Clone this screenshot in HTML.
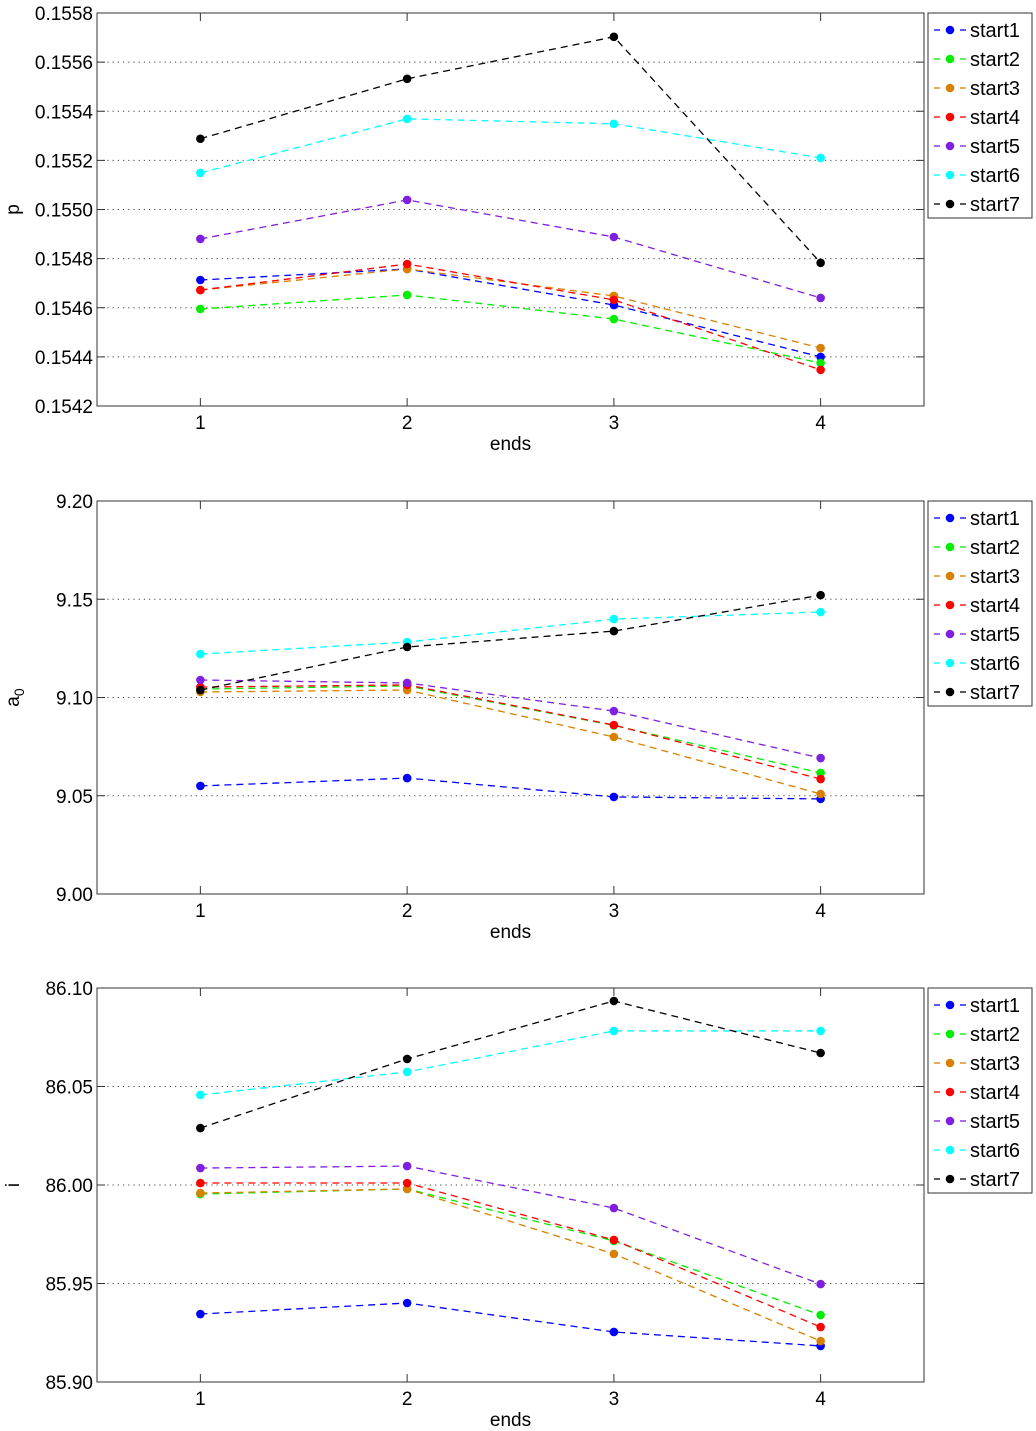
<!DOCTYPE html>
<html>
<head>
<meta charset="utf-8">
<style>
html,body{margin:0;padding:0;background:#fff;}
svg{display:block;font-family:"Liberation Sans",Arial,sans-serif;}
</style>
</head>
<body>
<svg id="fig" width="1036" height="1431" viewBox="0 0 1036 1431" xmlns="http://www.w3.org/2000/svg"></svg>
<script>
const categories = [1, 2, 3, 4];
const seriesNames = ["start1","start2","start3","start4","start5","start6","start7"];
const seriesColors = ["#0000ff","#00ee00","#d98000","#ff0000","#7f1fdf","#00ffff","#000000"];

const pStart1 = [0.154713, 0.154758, 0.154611, 0.15440];
const pStart2 = [0.154595, 0.154652, 0.154554, 0.154375];
const pStart3 = [0.154672, 0.154758, 0.154648, 0.154436];
const pStart4 = [0.154672, 0.154778, 0.154632, 0.154347];
const pStart5 = [0.154880, 0.155039, 0.154888, 0.154640];
const pStart6 = [0.155149, 0.155369, 0.155349, 0.155210];
const pStart7 = [0.155288, 0.155532, 0.155703, 0.154783];
const pTicks = ["0.1542","0.1544","0.1546","0.1548","0.1550","0.1552","0.1554","0.1556","0.1558"];

const aStart1 = [9.0550, 9.0590, 9.0494, 9.0484];
const aStart2 = [9.1043, 9.1059, 9.0858, 9.0616];
const aStart3 = [9.1028, 9.1038, 9.0799, 9.0509];
const aStart4 = [9.1053, 9.1064, 9.0860, 9.0585];
const aStart5 = [9.1089, 9.1074, 9.0931, 9.0692];
const aStart6 = [9.1221, 9.1282, 9.1399, 9.1435];
const aStart7 = [9.1038, 9.1257, 9.1338, 9.1521];
const aTicks = ["9.00","9.05","9.10","9.15","9.20"];

const iStart1 = [85.9345, 85.9401, 85.9254, 85.9183];
const iStart2 = [85.9954, 85.9980, 85.9716, 85.9340];
const iStart3 = [85.9959, 85.9980, 85.9650, 85.9208];
const iStart4 = [86.0010, 86.0010, 85.9721, 85.9279];
const iStart5 = [86.0086, 86.0096, 85.9883, 85.9497];
const iStart6 = [86.0457, 86.0574, 86.0782, 86.0782];
const iStart7 = [86.0289, 86.0640, 86.0934, 86.0670];
const iTicks = ["85.90","85.95","86.00","86.05","86.10"];

const NS = "http://www.w3.org/2000/svg";
const svg = document.getElementById("fig");
function mk(tag, attrs, parent){
  const e = document.createElementNS(NS, tag);
  for (const k in attrs) e.setAttribute(k, attrs[k]);
  (parent||svg).appendChild(e);
  return e;
}

const X0 = 97, X1 = 924;
function xScale(v){ return X0 + (v - 0.5) / 4 * (X1 - X0); }

function panel(key, top, bottom, ymin, ymax, ticks, series, ylabel, sub){
  const g = mk("g", {});
  
  
  const yScale = v => bottom - (v - ymin) / (ymax - ymin) * (bottom - top);
  ticks.forEach(t => {
    const y = yScale(parseFloat(t));
    if (y > top + 1 && y < bottom - 1) {
      const gl = mk("line", {x1:X0, x2:X1, y1:y, y2:y, stroke:"#444", "stroke-width":1, "stroke-dasharray":"1.2,4"}, g);
      
      
    }
    const tl = mk("line", {x1:X0, x2:X0+8, y1:y, y2:y, stroke:"#333"}, g);
    
    
    const tr = mk("line", {x1:X1, x2:X1-8, y1:y, y2:y, stroke:"#333"}, g);
    
    
    const tx = mk("text", {x:93, y:y+7, "text-anchor":"end", "font-size":19, fill:"#000"}, g);
    tx.textContent = t;
    
    
  });
  categories.forEach(c => {
    const x = xScale(c);
    const t1 = mk("line", {x1:x, x2:x, y1:bottom, y2:bottom-8, stroke:"#333"}, g);
    
    
    const t2 = mk("line", {x1:x, x2:x, y1:top, y2:top+8, stroke:"#333"}, g);
    
    
    const tx = mk("text", {x:x, y:bottom+23, "text-anchor":"middle", "font-size":19}, g);
    tx.textContent = String(c);
    
    
  });
  const box = mk("rect", {x:X0, y:top, width:X1-X0, height:bottom-top, fill:"none", stroke:"#333", "stroke-width":1}, g);
  
  
  const xl = mk("text", {x:(X0+X1)/2, y:bottom+44, "text-anchor":"middle", "font-size":19}, g);
  xl.textContent = "ends";
  
  
  const ly = (top+bottom)/2;
  const yl = mk("text", {x:0, y:0, transform:"translate(19," + ly + ") rotate(-90)", "text-anchor":"middle", "font-size":19}, g);
  yl.textContent = ylabel;
  if (sub) {
    const ts = mk("tspan", {"font-size":14, dy:"5"}, yl);
    ts.textContent = sub;
  }
  
  
  series.forEach((vals, si) => {
    const col = seriesColors[si];
    const pts = vals.map((v, i) => xScale(categories[i]) + "," + yScale(v)).join(" ");
    const pl = mk("polyline", {points:pts, fill:"none", stroke:col, "stroke-width":1.3, "stroke-dasharray":"7,5"}, g);
    
    
    vals.forEach((v, i) => {
      const c = mk("circle", {cx:xScale(categories[i]), cy:yScale(v), r:4.3, fill:col}, g);
      
      
    });
  });
  const lg = mk("g", {}, g);
  
  
  const lb = mk("rect", {x:928, y:top, width:104, height:205, fill:"#fff", stroke:"#333"}, lg);
  
  
  seriesNames.forEach((n, si) => {
    const y = top + 17 + si * 29;
    const col = seriesColors[si];
    const e = mk("g", {}, lg);
    
    
    mk("line", {x1:934, x2:940, y1:y, y2:y, stroke:col, "stroke-width":1.3}, e);
    mk("line", {x1:960, x2:966, y1:y, y2:y, stroke:col, "stroke-width":1.3}, e);
    mk("circle", {cx:950, cy:y, r:4.3, fill:col}, e);
    const t = mk("text", {x:970, y:y+7, "font-size":20}, e);
    t.textContent = n;
  });
}

panel("p", 13, 406, 0.1542, 0.1558, pTicks,
  [pStart1,pStart2,pStart3,pStart4,pStart5,pStart6,pStart7], "p", "");
panel("a0", 501, 894, 9.00, 9.20, aTicks,
  [aStart1,aStart2,aStart3,aStart4,aStart5,aStart6,aStart7], "a", "0");
panel("i", 988, 1382, 85.90, 86.10, iTicks,
  [iStart1,iStart2,iStart3,iStart4,iStart5,iStart6,iStart7], "i", "");
</script>
</body>
</html>
